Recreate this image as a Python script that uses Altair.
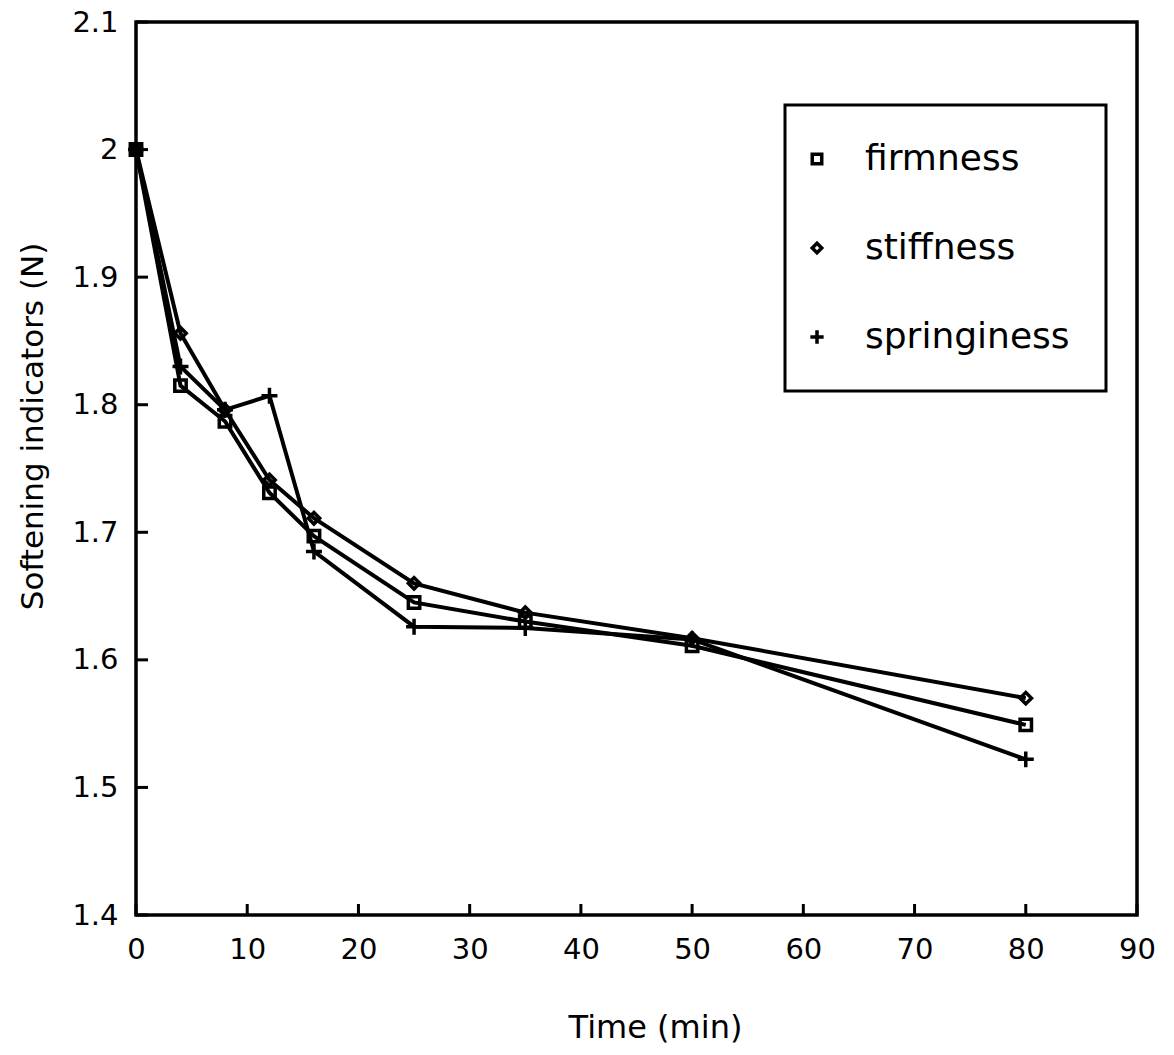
import altair as alt
import pandas as pd

# ---- data ----
time_min = [0, 4, 8, 12, 16, 25, 35, 50, 80]
firmness = [2.000, 1.815, 1.787, 1.731, 1.697, 1.645, 1.630, 1.611, 1.549]
stiffness = [2.000, 1.856, 1.796, 1.741, 1.711, 1.660, 1.637, 1.617, 1.570]
springiness = [2.000, 1.830, 1.796, 1.807, 1.685, 1.626, 1.625, 1.616, 1.522]
series_names = ["firmness", "stiffness", "springiness"]
x_ticks = [0, 10, 20, 30, 40, 50, 60, 70, 80, 90]
y_ticks = [1.4, 1.5, 1.6, 1.7, 1.8, 1.9, 2.0, 2.1]

rows = []
for name, vals in zip(series_names, [firmness, stiffness, springiness]):
    for t, v in zip(time_min, vals):
        rows.append({"Time": t, "Value": v, "series": name})
df = pd.DataFrame(rows)
xt = pd.DataFrame({"Time": x_ticks})
yt = pd.DataFrame({"Value": y_ticks})

FONT = "DejaVu Sans"
W, H = 1001, 893

x_scale = alt.Scale(domain=[0, 90], nice=False, zero=False)
y_scale = alt.Scale(domain=[1.4, 2.1], nice=False, zero=False)
x_axis = alt.Axis(values=x_ticks, title="Time (min)", format="d", ticks=False, domain=False,
                  grid=False, labelFontSize=29, labelPadding=20, labelFlush=False,
                  titleFontSize=32, titlePadding=48, titleX=519,
                  titleFontWeight="normal", labelColor="black", titleColor="black")
y_axis = alt.Axis(values=y_ticks, title="Softening indicators (N)", format=".2~f", ticks=False,
                  domain=False, grid=False, labelFontSize=29, labelPadding=18, labelFlush=False,
                  titleFontSize=31, titlePadding=22, titleY=404,
                  titleFontWeight="normal", labelColor="black", titleColor="black")

X = alt.X("Time:Q", scale=x_scale, axis=x_axis)
Y = alt.Y("Value:Q", scale=y_scale, axis=y_axis)

plus_path = "M-1.4,0H1.4M0,-1.4V1.4"

lines = alt.Chart(df).mark_line(color="black", strokeWidth=4).encode(
    x=X, y=Y, detail="series:N"
)

points = alt.Chart(df).mark_point(filled=False, color="black", strokeWidth=3.5, size=130, opacity=1).encode(
    x=X, y=Y,
    shape=alt.Shape(
        "series:N",
        scale=alt.Scale(domain=series_names, range=["square", "diamond", plus_path]),
        legend=alt.Legend(
            title=None, orient="none", legendX=649, legendY=83,
            strokeColor="black", padding=36, rowPadding=53,
            labelFontSize=36, labelOffset=30, labelLimit=400, labelColor="black",
            symbolOffset=-22,
            symbolSize=90, symbolStrokeWidth=3.5, symbolStrokeColor="black",
            symbolFillColor="white", labelFont=FONT,
        ),
    ),
)

yticks = alt.Chart(yt).mark_rule(color="black", strokeWidth=3).encode(
    y=Y, x=alt.value(0), x2=alt.value(12)
)
xticks = alt.Chart(xt).mark_rule(color="black", strokeWidth=3).encode(
    x=X, y=alt.value(H), y2=alt.value(H - 11)
)

chart = alt.layer(lines, points, yticks, xticks).properties(
    width=W, height=H,
    autosize=alt.AutoSizeParams(type="none"),
    padding={"left": 136, "top": 22, "right": 37, "bottom": 140},
).configure(font=FONT).configure_view(
    stroke="black", strokeWidth=3.5
).configure_legend(strokeWidth=3)

chart.save("out.html", embed_options={"renderer": "svg", "actions": False})
